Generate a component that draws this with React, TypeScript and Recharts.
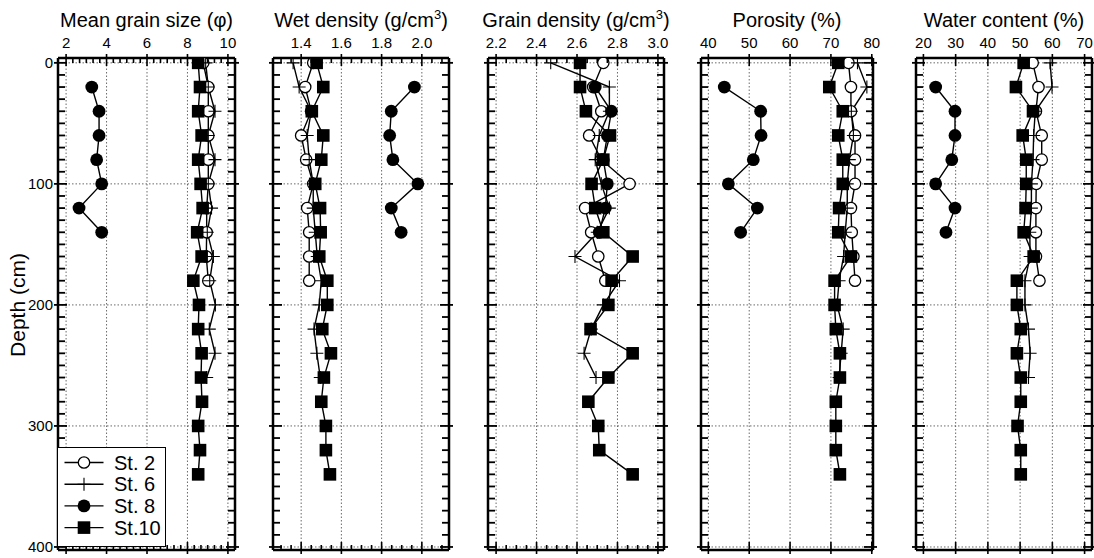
import { Legend, Line, LineChart, ReferenceLine, XAxis, YAxis } from 'recharts';

const FONT = '"Liberation Sans", Arial, Helvetica, sans-serif';

// depths (cm) sampled at each station
const depthAll = [0, 20, 40, 60, 80, 100, 120, 140, 160, 180, 200, 220, 240, 260, 280, 300, 320, 340];
const depthSt2 = [0, 20, 40, 60, 80, 100, 120, 140, 160, 180];
const depthSt6 = [0, 20, 40, 60, 80, 100, 120, 140, 160, 180, 200, 220, 240, 260];
const depthSt8 = [20, 40, 60, 80, 100, 120, 140];
const depthSt10 = [0, 20, 40, 60, 80, 100, 120, 140, 160, 180, 200, 220, 240, 260, 280, 300, 320, 340];

// mean grain size (phi)
const grainSizeSt2 = [8.78, 9.03, 9.03, 9.03, 9.03, 9.03, 8.95, 8.95, 8.93, 9.03];
const grainSizeSt6 = [8.9, 9.03, 9.36, 9.03, 9.36, 9.03, 9.19, 8.98, 9.28, 9.1, 9.38, 9.08, 9.36, 8.95];
const grainSizeSt8 = [3.27, 3.63, 3.63, 3.51, 3.76, 2.64, 3.76];
const grainSizeSt10 = [8.53, 8.62, 8.53, 8.7, 8.53, 8.65, 8.75, 8.48, 8.7, 8.29, 8.57, 8.53, 8.7, 8.67, 8.72, 8.53, 8.62, 8.53];

// wet density (g/cm3)
const wetSt2 = [1.46, 1.42, 1.45, 1.4, 1.425, 1.46, 1.43, 1.44, 1.44, 1.44];
const wetSt6 = [1.36, 1.39, 1.45, 1.43, 1.44, 1.46, 1.46, 1.47, 1.48, 1.5, 1.49, 1.464, 1.478, 1.495];
const wetSt8 = [1.963, 1.848, 1.84, 1.856, 1.98, 1.848, 1.897];
const wetSt10 = [1.477, 1.51, 1.453, 1.51, 1.5, 1.47, 1.494, 1.497, 1.49, 1.53, 1.53, 1.505, 1.548, 1.513, 1.5, 1.523, 1.523, 1.543];

// grain density (g/cm3)
const grainDenSt2 = [2.73, 2.68, 2.72, 2.66, 2.72, 2.86, 2.64, 2.67, 2.705, 2.74];
const grainDenSt6 = [2.47, 2.76, 2.76, 2.71, 2.69, 2.72, 2.76, 2.7, 2.59, 2.81, 2.73, 2.67, 2.635, 2.694];
const grainDenSt8 = [2.69, 2.77, 2.75, 2.73, 2.75, 2.74, 2.71];
const grainDenSt10 = [2.615, 2.615, 2.644, 2.763, 2.73, 2.672, 2.69, 2.73, 2.875, 2.771, 2.755, 2.667, 2.875, 2.755, 2.656, 2.705, 2.71, 2.875];

// porosity (%)
const porositySt2 = [74.3, 74.9, 74.9, 75.9, 75.9, 75.9, 74.9, 75.1, 75.5, 75.9];
const porositySt6 = [76.5, 78.8, 75.0, 75.5, 74.5, 74.0, 74.0, 73.5, 73.1, 72.0, 71.5, 73.0, 72.5, 72.0];
const porositySt8 = [43.9, 52.8, 52.9, 51.0, 44.9, 52.0, 47.9];
const porositySt10 = [71.8, 69.6, 72.9, 71.8, 72.9, 72.9, 72.0, 71.8, 74.9, 70.9, 70.9, 71.2, 72.2, 72.2, 71.2, 71.2, 71.2, 72.2];

// water content (%)
const waterSt2 = [53.9, 55.7, 54.9, 56.7, 56.7, 55.0, 54.9, 54.9, 54.9, 56.0];
const waterSt6 = [59.3, 59.9, 54.7, 54.2, 54.0, 53.5, 53.5, 53.0, 53.1, 51.5, 51.5, 52.6, 53.1, 52.6];
const waterSt8 = [23.8, 29.8, 29.8, 28.8, 23.8, 29.8, 27.0];
const waterSt10 = [51.1, 48.7, 54.0, 50.8, 51.9, 51.9, 51.7, 51.1, 54.2, 49.0, 49.0, 50.2, 49.0, 50.2, 50.2, 49.2, 50.2, 50.2];

// tick values
const depthLabels = [0, 100, 200, 300, 400];
const depthTicks = Array.from({ length: 41 }, (_, i) => i * 10);
const sizeMajors = [2, 4, 6, 8, 10];
const wetMajors = [1.4, 1.6, 1.8, 2.0];
const grainDenMajors = [2.2, 2.4, 2.6, 2.8, 3.0];
const porosityMajors = [40, 50, 60, 70, 80];
const waterMajors = [20, 30, 40, 50, 60, 70];

const steps = (from: number, to: number, step: number) =>
  Array.from({ length: Math.round((to - from) / step) + 1 }, (_, i) => +(from + i * step).toFixed(4));

const stations = [
  { key: 'st2', name: 'St. 2', depths: depthSt2 },
  { key: 'st6', name: 'St. 6', depths: depthSt6 },
  { key: 'st8', name: 'St. 8', depths: depthSt8 },
  { key: 'st10', name: 'St.10', depths: depthSt10 },
];

function buildRows(values: number[][]) {
  return depthAll.map((d) => {
    const row: Record<string, number | null> = { depth: d };
    stations.forEach((s, i) => {
      const j = s.depths.indexOf(d);
      row[s.key] = j >= 0 ? values[i][j] : null;
    });
    return row;
  });
}

const sup3 = <span style={{ fontSize: 13, position: 'relative', top: -8 }}>3</span>;

const panels = [
  {
    title: <>Mean grain size (φ)</>,
    left: 58, width: 177, domain: [1.6, 10.35],
    majors: sizeMajors, ticks: steps(2, 10, 1 / 3), fmt: (v: number) => String(v),
    rows: buildRows([grainSizeSt2, grainSizeSt6, grainSizeSt8, grainSizeSt10]),
  },
  {
    title: <>Wet density (g/cm{sup3})</>,
    left: 273, width: 176, domain: [1.26, 2.135],
    majors: wetMajors, ticks: steps(1.3, 2.1, 0.05), fmt: (v: number) => v.toFixed(1),
    rows: buildRows([wetSt2, wetSt6, wetSt8, wetSt10]),
  },
  {
    title: <>Grain density (g/cm{sup3})</>,
    left: 488, width: 176, domain: [2.16, 3.03],
    majors: grainDenMajors, ticks: steps(2.2, 3.0, 0.05), fmt: (v: number) => v.toFixed(1),
    rows: buildRows([grainDenSt2, grainDenSt6, grainDenSt8, grainDenSt10]),
  },
  {
    title: <>Porosity (%)</>,
    left: 701, width: 172, domain: [38.2, 80.3],
    majors: porosityMajors, ticks: porosityMajors, fmt: (v: number) => String(v),
    rows: buildRows([porositySt2, porositySt6, porositySt8, porositySt10]),
  },
  {
    title: <>Water content (%)</>,
    left: 916, width: 176, domain: [17.7, 72.3],
    majors: waterMajors, ticks: waterMajors, fmt: (v: number) => String(v),
    rows: buildRows([waterSt2, waterSt6, waterSt8, waterSt10]),
  },
];

function mark(key: string, cx: number, cy: number, k?: string | number) {
  if (key === 'st2') return <circle key={k} cx={cx} cy={cy} r={5.7} fill="#fff" stroke="#000" strokeWidth={1.3} />;
  if (key === 'st6')
    return <path key={k} d={`M${cx - 6.5},${cy}H${cx + 6.5}M${cx},${cy - 6.5}V${cy + 6.5}`} stroke="#000" strokeWidth={1.1} />;
  if (key === 'st8') return <circle key={k} cx={cx} cy={cy} r={6.4} fill="#000" />;
  return <rect key={k} x={cx - 6.3} y={cy - 6.3} width={12.6} height={12.6} fill="#000" />;
}

const isMajor = (majors: number[], v: number) => majors.some((m) => Math.abs(m - v) < 1e-6);

function hTick(majors: number[], pos: 'top' | 'bottom', fmt?: (v: number) => string) {
  return (p: any) => {
    const v = p.payload.value;
    const major = isMajor(majors, v);
    const d = pos === 'top' ? 1 : -1;
    return (
      <g key={`h-${pos}-${p.index}`}>
        <line x1={p.x} x2={p.x} y1={p.y - d * (major ? 4 : 0)} y2={p.y + d * (major ? 8 : 5)} stroke="#000" strokeWidth={1.6} />
        {fmt && major && (
          <text x={p.x} y={p.y - 10} textAnchor="middle" fontSize={15} fill="#000">
            {fmt(v)}
          </text>
        )}
      </g>
    );
  };
}

function vTick(pos: 'left' | 'right', labels: boolean) {
  return (p: any) => {
    const v = p.payload.value;
    const major = depthLabels.includes(v);
    const d = pos === 'left' ? 1 : -1;
    return (
      <g key={`v-${pos}-${p.index}`}>
        <line x1={p.x - d * (major ? 4 : 0)} x2={p.x + d * (major ? 9 : 7)} y1={p.y} y2={p.y} stroke="#000" strokeWidth={1.8} />
        {labels && major && (
          <text x={p.x - 5} y={p.y} dy={5} textAnchor="end" fontSize={15} fill="#000">
            {v}
          </text>
        )}
      </g>
    );
  };
}

const legendContent = (props: any) => (
  <svg width={106} height={97}>
    {(props.payload || []).map((e: any, i: number) => {
      const y = 14.5 + i * 21.7;
      return (
        <g key={e.value}>
          <line x1={6.5} x2={45.5} y1={y} y2={y} stroke="#000" strokeWidth={1.4} />
          {mark(e.dataKey, 26, y)}
          <text x={56} y={y + 7} fontSize={20} fill="#000" fontFamily={FONT}>
            {e.value}
          </text>
        </g>
      );
    })}
  </svg>
);

const frame = { stroke: '#000', strokeWidth: 2.5 };
const gridStyle = { stroke: '#444', strokeWidth: 0.8, strokeDasharray: '1.5 2' };

function Panel({ cfg, first, last }: { cfg: (typeof panels)[number]; first: boolean; last: boolean }) {
  // margins outside the 1px side axes
  const ml = first ? 57 : 11;
  const mr = last ? 1 : 11;
  return (
    <>
      <div
        style={{
          position: 'absolute', left: cfg.left + cfg.width / 2 - 150, width: 300, top: 10,
          textAlign: 'center', fontSize: 20, lineHeight: '20px', whiteSpace: 'nowrap',
        }}
      >
        {cfg.title}
      </div>
      <div style={{ position: 'absolute', left: cfg.left - ml - 1, top: 0 }}>
        <LineChart
          layout="vertical"
          width={ml + cfg.width + mr + 2}
          height={558}
          data={cfg.rows}
          margin={{ top: 28, right: mr, bottom: 7, left: ml }}
        >
          <XAxis xAxisId="t" orientation="top" type="number" domain={cfg.domain} allowDataOverflow ticks={cfg.ticks}
            interval={0} height={30} tickSize={0} tickMargin={0} tickLine={false} axisLine={frame}
            tick={hTick(cfg.majors, 'top', cfg.fmt)} />
          <XAxis xAxisId="b" orientation="bottom" type="number" domain={cfg.domain} allowDataOverflow ticks={cfg.ticks}
            interval={0} height={1} tickSize={0} tickMargin={0} tickLine={false} axisLine={frame}
            tick={hTick(cfg.majors, 'bottom')} />
          <YAxis yAxisId="l" orientation="left" type="number" dataKey="depth" domain={[-4, 402.5]}
            allowDataOverflow ticks={depthTicks} interval={0} width={1} tickSize={0} tickMargin={0} tickLine={false}
            axisLine={frame} tick={vTick('left', first)} />
          <YAxis yAxisId="r" orientation="right" type="number" dataKey="depth" domain={[-4, 402.5]}
            allowDataOverflow ticks={depthTicks} interval={0} width={1} tickSize={0} tickMargin={0} tickLine={false}
            axisLine={frame} tick={vTick('right', false)} />
          {cfg.majors.map((v) => (
            <ReferenceLine key={`gx${v}`} xAxisId="t" yAxisId="l" x={v} {...gridStyle} />
          ))}
          {depthLabels.map((v) => (
            <ReferenceLine key={`gy${v}`} xAxisId="t" yAxisId="l" y={v} {...gridStyle} />
          ))}
          {stations.map((s) => (
            <Line
              key={s.key}
              xAxisId="t"
              yAxisId="l"
              dataKey={s.key}
              name={s.name}
              stroke="#000"
              strokeWidth={1.4}
              isAnimationActive={false}
              activeDot={false}
              dot={(p: any) =>
                p.cx == null || p.cy == null || p.value == null ? <g key={`${s.key}-${p.index}`} /> : mark(s.key, p.cx, p.cy, `${s.key}-${p.index}`)
              }
            />
          ))}
          {first && (
            <Legend
              layout="vertical"
              align="center"
              verticalAlign="middle"
              content={legendContent}
              wrapperStyle={{
                left: 57, top: 447, width: 109, height: 100, border: '1.5px solid #000',
                background: '#fff', boxSizing: 'border-box',
              }}
            />
          )}
        </LineChart>
      </div>
    </>
  );
}

export default function App() {
  return (
    <div style={{ position: 'absolute', left: 0, top: 0, width: 1094, height: 558, background: '#fff', fontFamily: FONT, color: '#000' }}>
      {panels.map((cfg, i) => (
        <Panel key={i} cfg={cfg} first={i === 0} last={i === panels.length - 1} />
      ))}
      <div
        style={{
          position: 'absolute', left: 18, top: 305, transform: 'translate(-50%, -50%) rotate(-90deg)',
          fontSize: 21, whiteSpace: 'nowrap',
        }}
      >
        Depth (cm)
      </div>
    </div>
  );
}
